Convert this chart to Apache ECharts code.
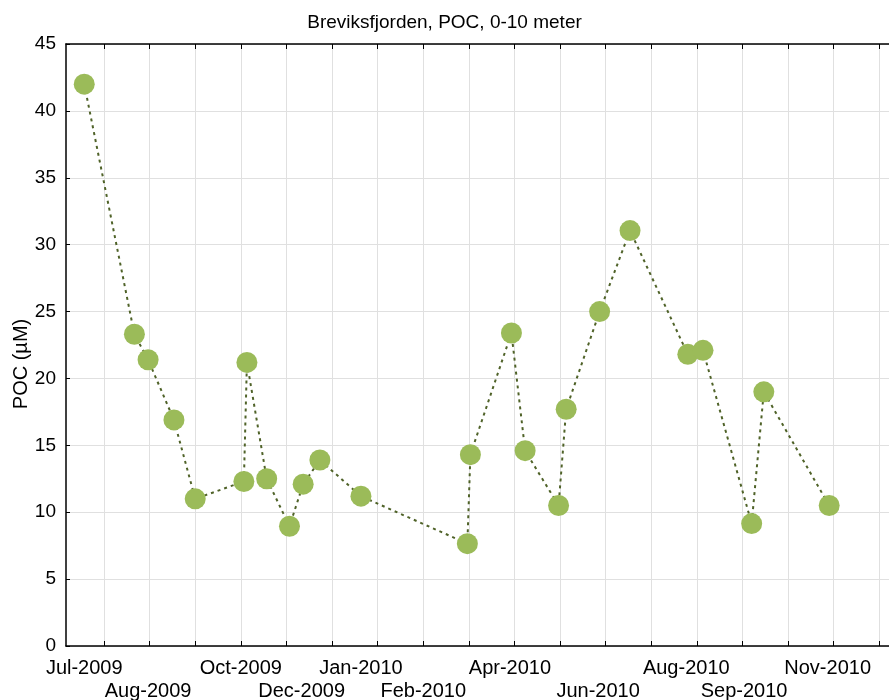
<!DOCTYPE html>
<html>
<head>
<meta charset="utf-8">
<script src="https://cdn.jsdelivr.net/npm/echarts@6/dist/echarts.min.js"></script>
<style>
  html, body { margin: 0; padding: 0; background: #fff; }
  #main { width: 889px; height: 700px; }
</style>
</head>
<body>
<div id="main"></div>
<script>
// sample dates and POC values (µM)
var dates = ['2009-07-13','2009-08-15','2009-08-24','2009-09-10','2009-09-24','2009-10-26','2009-10-28',
  '2009-11-10','2009-11-25','2009-12-04','2009-12-15','2010-01-11','2010-03-22','2010-03-24','2010-04-20',
  '2010-04-29','2010-05-21','2010-05-26','2010-06-17','2010-07-07','2010-08-14','2010-08-24','2010-09-25',
  '2010-10-03','2010-11-15'];
var poc = [42.0, 23.3, 21.4, 16.9, 11.0, 12.3, 21.2, 12.5, 8.95, 12.1, 13.9, 11.2, 7.65, 14.3, 23.4,
  14.6, 10.5, 17.7, 25.0, 31.05, 21.8, 22.1, 9.15, 19.0, 10.5];

// x axis: tick dates (every 30 days) and where the month labels sit (two staggered rows)
var tickDates = ['2009-07-26','2009-08-25','2009-09-24','2009-10-24','2009-11-23','2009-12-23',
  '2010-01-22','2010-02-21','2010-03-23','2010-04-22','2010-05-22','2010-06-21','2010-07-21',
  '2010-08-20','2010-09-19','2010-10-19','2010-11-18','2010-12-18'];
var labelsUpper = ['2009-07-13','2009-10-24','2010-01-11','2010-04-19','2010-08-13','2010-11-14'];
var labelsLower = ['2009-08-24','2009-12-03','2010-02-21','2010-06-16','2010-09-20'];
var monthNames = ['Jan','Feb','Mar','Apr','May','Jun','Jul','Aug','Sep','Oct','Nov','Dec'];
var yTicks = [0, 5, 10, 15, 20, 25, 30, 35, 40, 45];

function toTime(s) { return new Date(s + 'T00:00:00Z').getTime(); }
function monthLabel(val) {
  var d = new Date(val);
  return monthNames[d.getUTCMonth()] + '-' + d.getUTCFullYear();
}

var points = dates.map(function (d, i) { return [toTime(d), poc[i]]; });
var xMin = toTime('2009-07-01');
var xMax = toTime('2010-12-25');
var font = 'Liberation Sans, Arial, sans-serif';

function labelAxis(values, margin) {
  return {
    type: 'value',
    position: 'bottom',
    min: xMin,
    max: xMax,
    axisLine: { show: false },
    axisTick: { show: false },
    splitLine: { show: false },
    axisLabel: {
      customValues: values.map(toTime),
      showMinLabel: true,
      showMaxLabel: true,
      margin: margin,
      fontFamily: font,
      fontSize: 20,
      color: '#000',
      formatter: monthLabel
    }
  };
}

var chart = echarts.init(document.getElementById('main'), null, { renderer: 'canvas' });
var option = {
  animation: false,
  backgroundColor: '#fff',
  title: {
    text: 'Breviksfjorden, POC, 0-10 meter',
    left: 'center',
    top: 8,
    textStyle: { fontFamily: font, fontSize: 19, fontWeight: 'normal', color: '#000' }
  },
  grid: { left: 66, top: 44, width: 824, height: 602, outerBoundsMode: 'none', containLabel: false },
  xAxis: [{
    type: 'value',
    position: 'bottom',
    min: xMin,
    max: xMax,
    axisLine: { lineStyle: { color: '#000', width: 1.5 } },
    axisTick: { show: true, inside: true, length: 5, customValues: tickDates.map(toTime), lineStyle: { color: '#000' } },
    splitLine: { show: true, lineStyle: { color: '#e0e0e0', width: 1 } },
    axisLabel: { show: false }
  }, {
    type: 'value',
    position: 'top',
    min: xMin,
    max: xMax,
    axisLine: { lineStyle: { color: '#000', width: 1.5 } },
    axisTick: { show: true, inside: true, length: 5, customValues: tickDates.map(toTime), lineStyle: { color: '#000' } },
    splitLine: { show: false },
    axisLabel: { show: false }
  },
    labelAxis(labelsUpper, 12),
    labelAxis(labelsLower, 35)
  ],
  yAxis: {
    type: 'value',
    min: 0,
    max: 45,
    interval: 5,
    name: 'POC (µM)',
    nameLocation: 'middle',
    nameGap: 35,
    nameMoveOverlap: false,
    nameTextStyle: { fontFamily: font, fontSize: 20, color: '#000', padding: [0, 38, 0, 0] },
    axisLine: { show: true, lineStyle: { color: '#000', width: 1.5 } },
    axisTick: { show: true, inside: true, length: 4, lineStyle: { color: '#000' } },
    splitLine: { show: true, lineStyle: { color: '#e0e0e0', width: 1 } },
    axisLabel: {
      margin: 10,
      fontFamily: font,
      fontSize: 19,
      color: '#000',
      formatter: function (v) { return yTicks.indexOf(v) >= 0 ? String(v) : ''; }
    }
  },
  series: [{
    type: 'line',
    xAxisIndex: 0,
    data: points,
    symbol: 'circle',
    symbolSize: 21,
    itemStyle: { color: '#9bbb59', borderWidth: 0 },
    lineStyle: { color: '#4f6228', width: 2, type: [3, 4] },
    z: 3
  }]
};
chart.setOption(option);
</script>
</body>
</html>
